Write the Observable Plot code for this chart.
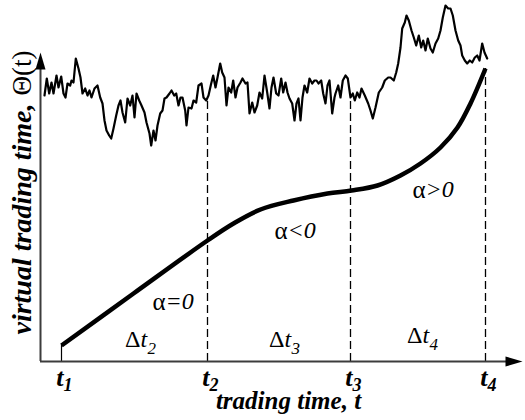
<!DOCTYPE html>
<html>
<head>
<meta charset="utf-8">
<script src="https://cdn.jsdelivr.net/npm/d3@7"></script>
<script src="https://cdn.jsdelivr.net/npm/@observablehq/plot@0.6"></script>
<style>
  html, body { margin: 0; padding: 0; background: white; }
  #chart svg text { font-family: "Liberation Serif", "Times New Roman", serif !important; }
</style>
</head>
<body>
<div id="chart"></div>
<script>
// ---- data (arbitrary units: t along x, θ along y) ----
const noiseT = [4,6.3,8.7,11,13,16,18,20.7,23,25,27,29.7,31,33,35.3,38,40,42,44.7,47,49,51,54,57,59.7,62,64,66,68.7,70.7,73,75.7,78,80,82,84.7,87,89.7,92,94,96,98.7,101,104,106,109,110.7,113,115,117,119.7,122,124,126,129,131,133.7,135.7,138,140,142,144.7,146,148,151,153,155.7,158,161,163,165.7,168,170.7,172.7,175,177,179.7,181.7,184,186,188,190.7,192.7,195,197,200,202,205,207,209,211.7,214,216.7,219,221.7,224,226.7,229,231,233,235.7,238,240.7,242.7,245,247,249,251.7,254,256,258,260,262,264,266.7,269,271.7,274,276,278,280.7,282.7,285,287,289,291.7,294,295,297.7,300,302.3,305,307.3,310,312.3,314.3,316.7,319,321,324.3,327.7,330,332.3,335,338.3,341.7,344.3,347.7,350,353.3,355.7,357.7,360,361.7,364.3,366,368.3,371,373.3,375.7,378.3,380.7,382.7,385,387.3,390,392.3,395,397.7,400,402.3,405,407.7,410,412.3,415,417.7,420,421.7,424.3,426.7,429.3,431.7,434.3,436.7,439,441.7,444,446.7];
const noiseTheta = [266,283,268,279,268,286,274,285,268,264,278,276,281,279,303,293,284,268,273,266,271,264,273,276,264,258,241,231,226,223,233,246,256,261,249,239,263,256,266,244,268,261,256,249,239,228,216,231,221,236,248,251,263,264,268,271,266,268,256,264,264,251,236,254,253,261,259,276,278,264,261,266,278,286,274,284,298,289,284,256,274,269,281,264,274,279,283,278,279,248,259,249,256,269,263,286,269,253,274,284,268,266,283,269,279,269,263,258,241,258,263,241,264,276,269,283,278,281,281,278,281,268,258,276,281,248,264,268,276,264,281,286,283,264,268,261,269,264,273,266,258,251,243,254,269,274,281,284,284,281,289,298,314,333,339,346,341,331,324,316,326,314,321,311,323,313,309,318,323,331,344,356,353,353,346,331,321,316,306,301,298,301,299,304,306,301,318,309,303];

const curveT = [21,93,167,193,220,253,287,311,337,360,380,400,417,430,445];
const curveTheta = [16,68,121,138,152,161,168,171,176,186,198,214,234,258,293];

const tickT = [21,167,310,445];
const tickSubs = ["1","2","3","4"];
const dashT = [167,310,445];
const dashTop = [261,261,293];

const axisXEnd = 482, axisYEnd = 309;

const deltaSubs = ["2","3","4"];
const deltaT = [100,244,382];
const deltaTheta = [21.7,21.7,25.7];

const alphaRel = ["=0","<0",">0"];
const alphaT = [125,247,385];
const alphaTheta = [59.7,130.7,171.7];

const xLabel = "trading time, t";
const yLabelMain = "virtual trading time,";
const yLabelSym = "Θ(t)";

const arrowSym = {draw(ctx) { ctx.moveTo(0,0); ctx.lineTo(-5,17); ctx.lineTo(5,17); ctx.closePath(); }};

const noise = noiseT.map((t,i) => ({t, v: noiseTheta[i]}));
const curve = curveT.map((t,i) => ({t, v: curveTheta[i]}));
const dashes = dashT.map((t,i) => ({t, top: dashTop[i]}));
const ticks = tickT.map((t,i) => ({t, s: tickSubs[i]}));
const deltas = deltaSubs.map((s,i) => ({s, t: deltaT[i], v: deltaTheta[i]}));
const alphas = alphaRel.map((r,i) => ({r, t: alphaT[i], v: alphaTheta[i]}));

const axisColor = "#3c3c3c";
const serif = "Liberation Serif";
const txt = {fontFamily: serif, fill: "black"};

const plot = Plot.plot({
  width: 525,
  height: 420,
  marginLeft: 40,
  marginRight: 3,
  marginTop: 0,
  marginBottom: 59,
  x: {domain: [0, 482], axis: null},
  y: {domain: [0, 361], axis: null},
  marks: [
    Plot.ruleX(dashes, {x: "t", y1: 0, y2: "top", stroke: "black", strokeWidth: 1.3, strokeDasharray: "8,4"}),
    Plot.ruleX([tickT[0]], {y1: 0, y2: curveTheta[0], stroke: "black", strokeWidth: 1.2}),
    Plot.ruleY([0], {x1: 0, x2: axisXEnd - 12, stroke: axisColor, strokeWidth: 2}),
    Plot.ruleX([0], {y1: 0, y2: axisYEnd - 12, stroke: axisColor, strokeWidth: 2}),
    Plot.dot([{t: axisXEnd, v: 0}], {x: "t", y: "v", symbol: arrowSym, rotate: 90, fill: "black", stroke: null}),
    Plot.dot([{t: 0, v: axisYEnd}], {x: "t", y: "v", symbol: arrowSym, rotate: 0, fill: "black", stroke: null}),
    Plot.line(noise, {x: "t", y: "v", stroke: "black", strokeWidth: 2.2, strokeLinejoin: "round"}),
    Plot.line(curve, {x: "t", y: "v", stroke: "black", strokeWidth: 4.5, curve: "catmull-rom", strokeLinecap: "butt"}),
    // tick labels t1..t4
    Plot.text(ticks, {x: "t", y: -16, dx: 2, text: () => "t", textAnchor: "end", fontSize: 26, fontStyle: "italic", fontWeight: "bold", ...txt}),
    Plot.text(ticks, {x: "t", y: -24, dx: 2, text: "s", textAnchor: "start", fontSize: 18, fontStyle: "italic", fontWeight: "bold", ...txt}),
    // Δt labels
    Plot.text(deltas, {x: "t", y: "v", text: () => "Δ", textAnchor: "end", fontSize: 24, ...txt}),
    Plot.text(deltas, {x: "t", y: "v", text: () => "t", textAnchor: "start", fontSize: 24, fontStyle: "italic", ...txt}),
    Plot.text(deltas, {x: "t", y: d => d.v - 8.3, dx: 7, text: "s", textAnchor: "start", fontSize: 17, fontStyle: "italic", ...txt}),
    // α labels
    Plot.text(alphas, {x: "t", y: "v", text: () => "α", textAnchor: "end", fontSize: 25, ...txt}),
    Plot.text(alphas, {x: "t", y: "v", text: "r", textAnchor: "start", fontSize: 24, fontStyle: "italic", ...txt}),
    // axis titles
    Plot.text([xLabel], {x: 248, y: -39, text: d => d, fontSize: 25, fontStyle: "italic", fontWeight: "bold", ...txt}),
    Plot.text([yLabelMain], {x: -18, y: 258, text: d => d, rotate: -90, textAnchor: "end", fontSize: 28, fontStyle: "italic", fontWeight: "bold", ...txt}),
    Plot.text([yLabelSym], {x: -18, y: 311, text: d => d, rotate: -90, textAnchor: "end", fontSize: 27, ...txt})
  ]
});

document.getElementById("chart").appendChild(plot);
</script>
</body>
</html>
